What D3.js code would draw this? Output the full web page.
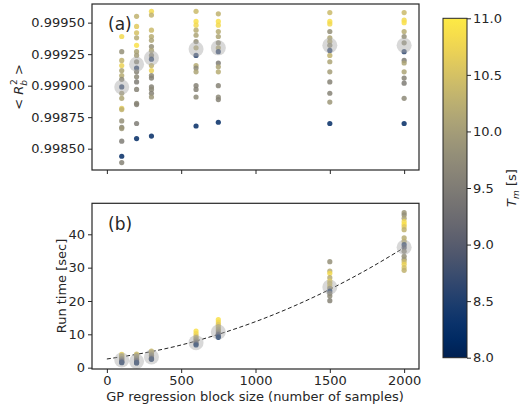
<!DOCTYPE html>
<html>
<head>
<meta charset="utf-8">
<script src="https://cdnjs.cloudflare.com/ajax/libs/d3/7.8.5/d3.min.js"></script>
<style>
  body { margin: 0; background: #fff; }
  text { font-family: "DejaVu Sans", sans-serif; fill: #262626; }
</style>
</head>
<body>
<div id="my_dataviz"></div>
<script>
// block sizes (number of samples)
var blockSizes = [100, 200, 300, 600, 750, 1500, 2000];

// panel (a): [<R_b^2>, Tm] per run
var r2_100 = [[0.99939,10.8],[0.99927,9.8],[0.99920,10.3],[0.99916,10.7],[0.99912,10.1],[0.99908,10.2],[0.99905,9.7],[0.99899,8.6],[0.99894,10.0],[0.99890,10.1],[0.99882,10.6],[0.99881,10.3],[0.99872,9.8],[0.99867,9.7],[0.99866,9.9],[0.99856,9.5],[0.99844,8.2],[0.99839,9.6]];
var r2_200 = [[0.99955,10.3],[0.99947,10.6],[0.99942,10.5],[0.99938,10.2],[0.99932,10.9],[0.99927,10.1],[0.99924,10.0],[0.99919,9.7],[0.99914,8.6],[0.99911,9.6],[0.99907,9.7],[0.99903,9.5],[0.99897,9.6],[0.99886,9.7],[0.99885,9.6],[0.99870,9.5],[0.99858,8.2]];
var r2_300 = [[0.99959,10.8],[0.99956,10.3],[0.99944,10.4],[0.99939,10.2],[0.99936,10.1],[0.99931,9.8],[0.99928,10.1],[0.99924,9.7],[0.99921,8.6],[0.99916,10.3],[0.99912,10.7],[0.99908,9.7],[0.99906,9.6],[0.99899,9.6],[0.99897,9.7],[0.99894,9.6],[0.99891,9.9],[0.99860,8.2]];
var r2_600 = [[0.99959,10.4],[0.99951,10.9],[0.99948,10.8],[0.99944,10.2],[0.99940,10.1],[0.99935,9.8],[0.99930,10.2],[0.99924,8.6],[0.99916,10.2],[0.99914,9.7],[0.99911,10.1],[0.99900,9.6],[0.99897,9.6],[0.99891,9.7],[0.99868,8.2]];
var r2_750 = [[0.99957,10.3],[0.99951,10.9],[0.99948,10.8],[0.99943,10.2],[0.99939,10.1],[0.99934,9.8],[0.99930,10.2],[0.99927,8.6],[0.99918,9.5],[0.99915,10.1],[0.99911,10.2],[0.99900,9.6],[0.99891,9.7],[0.99889,9.6],[0.99871,8.2]];
var r2_1500 = [[0.99958,10.4],[0.99951,10.9],[0.99949,10.8],[0.99943,9.8],[0.99938,10.1],[0.99935,10.2],[0.99932,9.8],[0.99928,8.6],[0.99924,10.3],[0.99919,10.1],[0.99911,10.0],[0.99903,9.6],[0.99894,9.6],[0.99887,9.9],[0.99870,8.2]];
var r2_2000 = [[0.99958,10.4],[0.99952,10.8],[0.99950,10.9],[0.99943,10.2],[0.99939,9.8],[0.99934,9.8],[0.99927,8.6],[0.99920,9.5],[0.99918,10.1],[0.99911,10.1],[0.99906,9.6],[0.99902,9.5],[0.99890,9.7],[0.99870,8.2]];
var meanR2 = [0.99899, 0.99917, 0.99922, 0.99929, 0.99930, 0.99932, 0.99932];

// panel (b): [run time in sec, Tm] per run
var rt_100 = [[4.0,10.8],[3.6,10.4],[3.3,10.1],[3.0,10.2],[2.7,9.8],[2.4,9.6],[2.1,9.3],[1.8,8.9],[1.5,8.3],[1.6,8.6]];
var rt_200 = [[4.1,10.4],[3.7,10.2],[3.3,10.0],[2.9,9.8],[2.5,9.6],[2.1,9.2],[1.7,8.8],[1.4,8.3],[1.5,8.6]];
var rt_300 = [[5.0,10.4],[4.6,10.3],[4.1,10.0],[3.7,9.8],[3.2,9.5],[2.8,9.0],[2.5,8.4],[2.6,8.7]];
var rt_600 = [[11.0,10.9],[10.2,10.8],[9.5,10.6],[9.0,10.2],[8.5,10.0],[8.0,9.7],[7.5,9.3],[7.1,8.8],[6.8,8.3]];
var rt_750 = [[14.4,10.9],[13.7,10.8],[13.0,10.6],[12.3,10.3],[11.6,10.1],[11.0,9.9],[10.4,9.5],[9.9,9.0],[9.4,8.6],[9.1,8.2]];
var rt_1500 = [[31.8,9.8],[29.0,10.2],[28.3,10.8],[27.0,10.2],[26.0,10.7],[25.3,10.4],[24.5,10.5],[23.8,9.8],[23.0,8.5],[22.3,9.6],[21.5,9.7],[20.1,9.6]];
var rt_2000 = [[46.5,9.9],[45.8,9.8],[44.8,10.1],[43.8,10.8],[43.0,10.9],[42.3,10.6],[41.4,10.3],[38.9,10.2],[37.9,10.3],[36.9,8.6],[36.0,9.0],[34.9,9.7],[33.4,9.8],[32.5,9.9],[31.8,10.4],[31.0,10.7],[30.0,10.5],[29.2,10.3]];
var meanRt = [2.3, 1.9, 3.2, 7.5, 10.7, 24.2, 36.1];

// dashed fit curve
var fitX = [0, 250, 500, 750, 1000, 1250, 1500, 1750, 2000];
var fitY = [2.6, 4.4, 6.8, 10.0, 13.8, 18.3, 23.5, 29.4, 36.0];

// tick labels
var xTicks = [0, 500, 1000, 1500, 2000];
var r2Ticks = [0.99850, 0.99875, 0.99900, 0.99925, 0.99950];
var rtTicks = [0, 10, 20, 30, 40];
var tmTicks = [8.0, 8.5, 9.0, 9.5, 10.0, 10.5, 11.0];

var r2Groups = [r2_100, r2_200, r2_300, r2_600, r2_750, r2_1500, r2_2000];
var rtGroups = [rt_100, rt_200, rt_300, rt_600, rt_750, rt_1500, rt_2000];

var W = 529, H = 409;
var svg = d3.select("#my_dataviz")
  .append("svg")
    .attr("width", W)
    .attr("height", H);

var color = d3.scaleSequential(d3.interpolateCividis).domain([8, 11]);

var x = d3.scaleLinear().domain([-100, 2100]).range([92, 419]);
var yA = d3.scaleLinear().domain([0.998331, 0.999648]).range([170, 4]);
var yB = d3.scaleLinear().domain([-0.4, 49.3]).range([369, 203.3]);

function flatten(groups) {
  var out = [];
  groups.forEach(function(g, i) {
    g.forEach(function(p) { out.push({n: blockSizes[i], v: p[0], tm: p[1]}); });
  });
  return out;
}

function styleAxis(g) {
  g.selectAll("path").remove();
  g.selectAll("line").attr("stroke", "#262626").attr("stroke-width", 1);
  g.selectAll("text").style("font-size", "13px").attr("fill", "#262626");
}

function drawPanel(y, groups, means, yTicks, fmt, top, bottom) {
  // x axis (labels only on the lower panel)
  svg.append("g")
    .attr("transform", "translate(0," + bottom + ")")
    .call(d3.axisBottom(x).tickValues(xTicks).tickSize(4).tickPadding(3)
      .tickFormat(fmt === null ? "" : d3.format("d")))
    .call(styleAxis);

  svg.append("g")
    .attr("transform", "translate(92,0)")
    .call(d3.axisLeft(y).tickValues(yTicks).tickSize(4).tickPadding(3)
      .tickFormat(d3.format(yTicks[0] < 1 && yTicks[0] > 0.9 ? ".5f" : "d")))
    .call(styleAxis);

  // dots
  svg.append("g")
    .selectAll("circle")
    .data(flatten(groups))
    .enter()
    .append("circle")
      .attr("cx", function(d) { return x(d.n); })
      .attr("cy", function(d) { return y(d.v); })
      .attr("r", 2.6)
      .style("fill", function(d) { return color(d.tm); })
      .style("opacity", 0.85);

  // means
  svg.append("g")
    .selectAll("circle")
    .data(means)
    .enter()
    .append("circle")
      .attr("cx", function(d, i) { return x(blockSizes[i]); })
      .attr("cy", function(d) { return y(d); })
      .attr("r", 7.5)
      .style("fill", "#a8a8a8")
      .style("opacity", 0.45);

  // frame
  svg.append("rect")
    .attr("x", 92).attr("y", top)
    .attr("width", 327).attr("height", bottom - top)
    .attr("fill", "none")
    .attr("stroke", "#262626")
    .attr("stroke-width", 1.2);
}

drawPanel(yA, r2Groups, meanR2, r2Ticks, null, 4, 170);

// fit line in panel (b)
var fitLine = d3.line()
  .x(function(d) { return x(d[0]); })
  .y(function(d) { return yB(d[1]); })
  .curve(d3.curveMonotoneX);
svg.append("path")
  .datum(d3.zip(fitX, fitY))
  .attr("d", fitLine)
  .attr("fill", "none")
  .attr("stroke", "#222")
  .attr("stroke-width", 1)
  .attr("stroke-dasharray", "4,2.5");

drawPanel(yB, rtGroups, meanRt, rtTicks, "d", 203.3, 369);

// panel letters
svg.append("text").attr("x", 108).attr("y", 30).style("font-size", "17px").text("(a)");
svg.append("text").attr("x", 108).attr("y", 230).style("font-size", "17px").text("(b)");

// axis titles
var yla = svg.append("text")
  .attr("transform", "translate(23,87) rotate(-90)")
  .attr("text-anchor", "middle")
  .style("font-size", "13px");
yla.append("tspan").text("< ");
yla.append("tspan").style("font-style", "italic").text("R");
yla.append("tspan").attr("dy", 4).style("font-size", "9px").style("font-style", "italic").text("b");
yla.append("tspan").attr("dx", -5).attr("dy", -10).style("font-size", "9px").text("2");
yla.append("tspan").attr("dy", 6).text(" >");

svg.append("text")
  .attr("transform", "translate(66,286) rotate(-90)")
  .attr("text-anchor", "middle")
  .style("font-size", "13px")
  .text("Run time [sec]");

svg.append("text")
  .attr("x", 255).attr("y", 401)
  .attr("text-anchor", "middle")
  .style("font-size", "13px")
  .text("GP regression block size (number of samples)");

// colorbar
var cb = {x: 443, y: 18.3, w: 24, h: 339.4};
var cbScale = d3.scaleLinear().domain([8, 11]).range([cb.y + cb.h, cb.y]);
var defs = svg.append("defs");
var grad = defs.append("linearGradient")
  .attr("id", "cbgrad")
  .attr("x1", "0").attr("y1", "1").attr("x2", "0").attr("y2", "0");
d3.range(0, 1.0001, 0.05).forEach(function(t) {
  grad.append("stop").attr("offset", t).attr("stop-color", d3.interpolateCividis(t));
});
svg.append("rect")
  .attr("x", cb.x).attr("y", cb.y).attr("width", cb.w).attr("height", cb.h)
  .attr("fill", "url(#cbgrad)")
  .attr("stroke", "#262626").attr("stroke-width", 1);
svg.append("g")
  .attr("transform", "translate(" + (cb.x + cb.w) + ",0)")
  .call(d3.axisRight(cbScale).tickValues(tmTicks).tickSize(4).tickPadding(2).tickFormat(d3.format(".1f")))
  .call(styleAxis);

var tml = svg.append("text")
  .attr("transform", "translate(516,188) rotate(-90)")
  .attr("text-anchor", "middle")
  .style("font-size", "13px");
tml.append("tspan").style("font-style", "italic").text("T");
tml.append("tspan").attr("dy", 3).style("font-size", "9px").style("font-style", "italic").text("m");
tml.append("tspan").attr("dy", -3).text(" [s]");
</script>
</body>
</html>
